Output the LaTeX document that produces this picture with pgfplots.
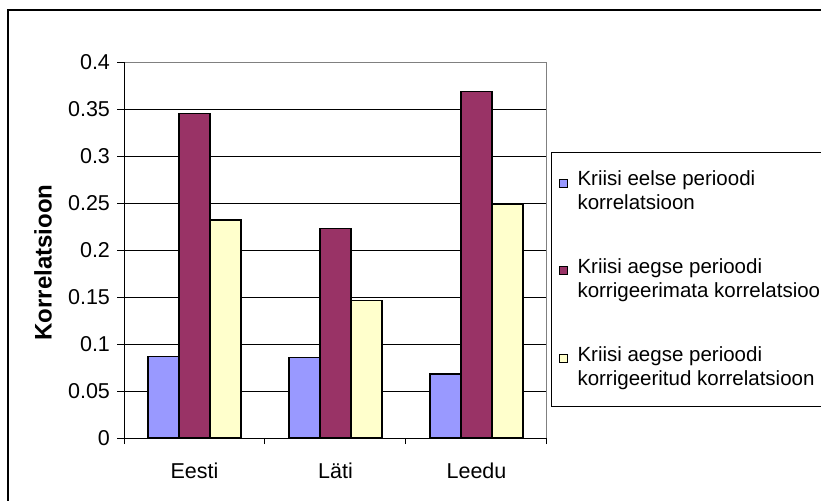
\documentclass[border=0pt]{standalone}
\usepackage{pgfplots}
\pgfplotsset{compat=1.18}
\usepackage{fontspec}
\setmainfont{Liberation Sans}
\definecolor{cblue}{HTML}{9999FF}
\definecolor{cpurple}{HTML}{993366}
\definecolor{cyellow}{HTML}{FFFFCC}
\begin{document}
\begin{tikzpicture}[font=\fontsize{10.75}{12.5}\selectfont]
\useasboundingbox (0,0) rectangle (410.5pt,250pt);
\clip (0,0) rectangle (410.5pt,250pt);
\fill[white] (0,0) rectangle (410.5pt,250pt);
\draw[line width=1pt] (4pt,-2pt) -- (4pt,245pt) -- (415pt,245pt);
\begin{axis}[
  at={(62pt,31pt)}, anchor=south west, scale only axis,
  width=211.5pt, height=188pt,
  ybar=0pt, bar width=15.5pt,
  xmin=-0.5, xmax=2.5, ymin=0, ymax=0.4,
  xtick={0,1,2}, xticklabels={Eesti,Läti,Leedu},
  minor xtick={-0.5,0.5,1.5,2.5},
  major x tick style={draw=none},
  minor x tick style={black, line width=0.5pt},
  ytick={0,0.05,0.1,0.15,0.2,0.25,0.3,0.35,0.4},
  yticklabels={0,0.05,0.1,0.15,0.2,0.25,0.3,0.35,0.4},
  y tick style={black, line width=0.5pt},
  major tick length=3.5pt, minor tick length=3pt,
  tick align=outside, tick pos=left,
  ymajorgrids, major grid style={black, line width=0.5pt},
  axis line style={draw=gray, line width=0.5pt},
  xticklabel style={yshift=-5.5pt},
  ylabel={Korrelatsioon},
  every axis y label/.style={at={(axis description cs:-0.1915,0.467)}, rotate=90, anchor=center, font=\fontsize{12}{14}\selectfont\bfseries},
  legend style={at={(1.0095,0.7606)}, anchor=north west, draw=black, line width=0.5pt,
    font=\fontsize{10.25}{12}\selectfont, cells={anchor=west, align=left}, row sep=19pt,
    inner xsep=3pt, inner ysep=7pt},
  legend image code/.code={\path[draw=none, fill=none] (0pt,4pt) -- (8pt,4pt);\draw[#1, line width=0.5pt] (1pt,2.2pt) rectangle (5pt,6.2pt);},
]
\addplot[fill=cblue, draw=black, line width=0.6pt] coordinates {(0,0.087) (1,0.086) (2,0.068)};
\addlegendentry{Kriisi eelse perioodi\\korrelatsioon}
\addplot[fill=cpurple, draw=black, line width=0.6pt] coordinates {(0,0.345) (1,0.223) (2,0.369)};
\addlegendentry{Kriisi aegse perioodi\\korrigeerimata korrelatsioon}
\addplot[fill=cyellow, draw=black, line width=0.6pt] coordinates {(0,0.232) (1,0.146) (2,0.249)};
\addlegendentry{Kriisi aegse perioodi\\korrigeeritud korrelatsioon}
\draw[black, line width=0.5pt] (rel axis cs:0,0) -- (rel axis cs:0,1);
\draw[black, line width=0.5pt] (rel axis cs:0,0) -- (rel axis cs:1,0);
\end{axis}
\end{tikzpicture}
\end{document}
